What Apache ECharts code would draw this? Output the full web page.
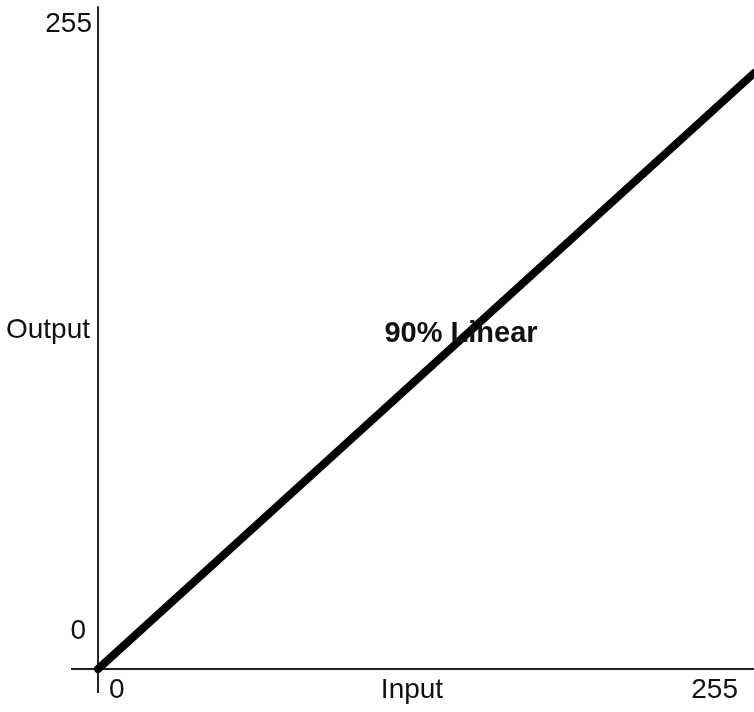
<!DOCTYPE html>
<html>
<head>
<meta charset="utf-8">
<script src="https://cdn.jsdelivr.net/npm/echarts@6/dist/echarts.min.js"></script>
<style>
html,body{margin:0;padding:0;background:#fff;}
#c{width:754px;height:712px;}
</style>
</head>
<body>
<div id="c"></div>
<script>
// Data
var inputValues = [0, 255];
var outputValues = [0, 229.5];   // 90% linear
var xTickLabels = ['0', '255'];
var yTickLabels = ['0', '255'];
var xAxisTitle = 'Input';
var yAxisTitle = 'Output';
var curveLabel = '90% Linear';

var FONT = '"Liberation Sans", Arial, sans-serif';
var chart = echarts.init(document.getElementById('c'), null, {renderer: 'canvas'});

var seriesData = inputValues.map(function (v, i) { return [v, outputValues[i]]; });

function txt(x, y, s, align, vAlign, bold, size) {
  return {
    type: 'text', x: x, y: y, z: 10,
    style: {
      text: s, fill: '#111', font: (bold ? 'bold ' : '') + (size || 28) + 'px ' + FONT,
      textAlign: align, textVerticalAlign: vAlign
    }
  };
}

chart.setOption({
  animation: false,
  backgroundColor: '#fff',
  grid: {left: 98, top: 7, bottom: 43, right: -6, containLabel: false},
  xAxis: {
    type: 'value', min: 0, max: 255, interval: 255,
    axisLine: {show: true, onZero: false, lineStyle: {color: '#222', width: 2}},
    axisTick: {show: false}, axisLabel: {show: false}, splitLine: {show: false}
  },
  yAxis: {
    type: 'value', min: 0, max: 255, interval: 255,
    axisLine: {show: true, onZero: false, lineStyle: {color: '#222', width: 2}},
    axisTick: {show: false}, axisLabel: {show: false}, splitLine: {show: false}
  },
  series: [{
    type: 'line', data: seriesData, symbol: 'none', clip: false,
    lineStyle: {color: '#000', width: 8, cap: 'round'}
  }],
  graphic: [
    {type: 'line', shape: {x1: 71, y1: 669, x2: 98, y2: 669}, style: {stroke: '#222', lineWidth: 2}},
    {type: 'line', shape: {x1: 98, y1: 669, x2: 98, y2: 693}, style: {stroke: '#222', lineWidth: 2}},
    txt(92, 24, yTickLabels[1], 'right', 'middle'),
    txt(86, 631, yTickLabels[0], 'right', 'middle'),
    txt(90, 330, yAxisTitle, 'right', 'middle'),
    txt(109, 690, xTickLabels[0], 'left', 'middle'),
    txt(738, 690, xTickLabels[1], 'right', 'middle'),
    txt(412, 690, xAxisTitle, 'center', 'middle'),
    txt(461, 334, curveLabel, 'center', 'middle', true, 29)
  ]
});
</script>
</body>
</html>
